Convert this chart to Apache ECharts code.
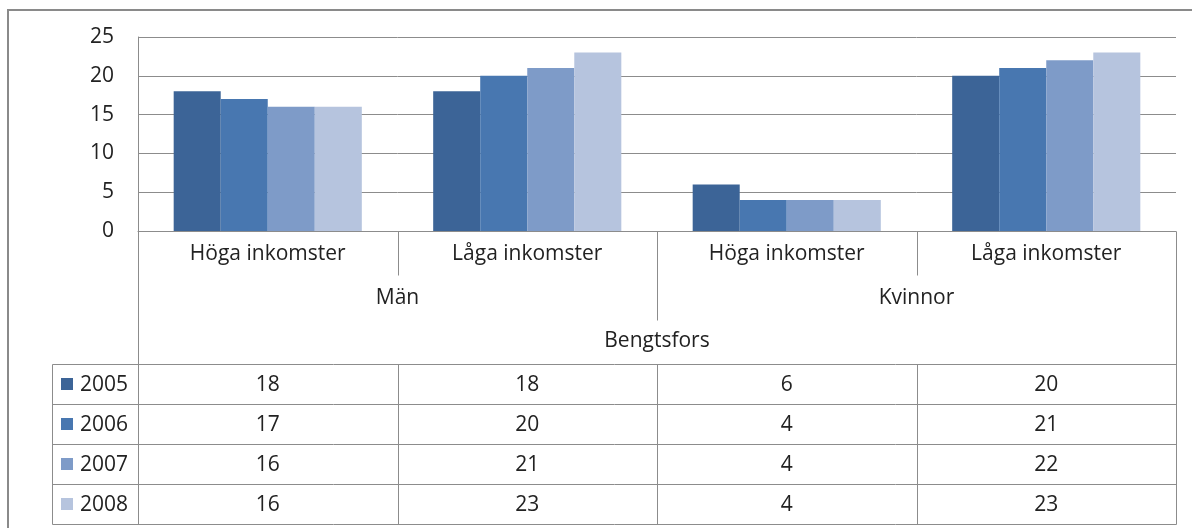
<!DOCTYPE html>
<html>
<head>
<meta charset="utf-8">
<script src="https://cdn.jsdelivr.net/npm/echarts@6/dist/echarts.min.js"></script>
<style>
  html, body { margin: 0; padding: 0; background: #fff; }
  #chart { width: 1192px; height: 528px; }
</style>
</head>
<body>
<div id="chart"></div>
<script>
// data
const categories = ['Höga inkomster', 'Låga inkomster', 'Höga inkomster', 'Låga inkomster'];
const groups = ['Män', 'Kvinnor'];
const region = 'Bengtsfors';
const years = ['2005', '2006', '2007', '2008'];
const v2005 = [18, 18, 6, 20];
const v2006 = [17, 20, 4, 21];
const v2007 = [16, 21, 4, 22];
const v2008 = [16, 23, 4, 23];
const yTicks = [0, 5, 10, 15, 20, 25];

const values = [v2005, v2006, v2007, v2008];
const colors = ['#3c6497', '#4877b0', '#7e9bc8', '#b6c4de'];
const FONT = 'Open Sans';
const TXT = '#222';
const LINE = '#8c8c8c';

const chart = echarts.init(document.getElementById('chart'));

chart.setOption({
  animation: false,
  backgroundColor: '#fff',
  grid: { left: 138, right: 16, top: 37, bottom: 297 },
  xAxis: {
    type: 'category',
    data: categories.map((c, i) => String(i)),
    axisLine: { lineStyle: { color: LINE } },
    axisTick: { show: false },
    axisLabel: {
      formatter: (v, i) => categories[i],
      fontFamily: FONT, fontSize: 21, color: TXT, margin: 13
    }
  },
  yAxis: {
    type: 'value',
    min: yTicks[0],
    max: yTicks[yTicks.length - 1],
    interval: 5,
    axisLine: { show: true, lineStyle: { color: LINE } },
    axisTick: { show: false },
    splitLine: { lineStyle: { color: LINE } },
    axisLabel: { fontFamily: FONT, fontSize: 21, color: TXT, margin: 24 }
  },
  series: years.map((y, i) => ({
    name: y,
    type: 'bar',
    data: values[i],
    barGap: 0,
    barCategoryGap: '27.5%',
    itemStyle: { color: colors[i] }
  }))
});

// data table under the axis, placed from the axis scale
const cx = categories.map((c, i) => chart.convertToPixel({ xAxisIndex: 0 }, i));
const half = (cx[1] - cx[0]) / 2;
const bounds = [cx[0] - half].concat(cx.map(x => x + half));
const yBase = chart.convertToPixel({ yAxisIndex: 0 }, 0);
const rowTop = 364, rowH = 40, legLeft = 52;
const tableBottom = rowTop + rowH * years.length;

const g = [];
const line = (x1, y1, x2, y2) => g.push({
  type: 'line', silent: true,
  shape: { x1: Math.round(x1) + 0.5, y1: Math.round(y1) + 0.5, x2: Math.round(x2) + 0.5, y2: Math.round(y2) + 0.5 },
  style: { stroke: LINE, lineWidth: 1 }
});
const text = (x, y, s, align) => g.push({
  type: 'text', silent: true, x: x, y: y,
  style: { text: s, fontFamily: FONT, fontSize: 21, fill: TXT, align: align || 'center', verticalAlign: 'middle' }
});

// outer chart border
g.push({ type: 'rect', silent: true, shape: { x: 8, y: 10, width: 1300, height: 700 },
  style: { fill: 'none', stroke: '#8a8a8a', lineWidth: 2 } });

// header separators
line(bounds[0], yBase, bounds[0], tableBottom);
line(bounds[4], yBase, bounds[4], tableBottom);
line(bounds[1], yBase, bounds[1], 275);
line(bounds[3], yBase, bounds[3], 275);
line(bounds[2], yBase, bounds[2], 320);

// group + region labels
text((bounds[0] + bounds[2]) / 2, 298, groups[0]);
text((bounds[2] + bounds[4]) / 2, 298, groups[1]);
text((bounds[0] + bounds[4]) / 2, 341, region);

// table grid
for (let r = 0; r <= years.length; r++) line(legLeft, rowTop + r * rowH, bounds[4], rowTop + r * rowH);
line(legLeft, rowTop, legLeft, tableBottom);
for (let k = 1; k < 4; k++) line(bounds[k], rowTop, bounds[k], tableBottom);

// rows
years.forEach((y, r) => {
  const cy = rowTop + r * rowH + rowH / 2 + 1;
  g.push({ type: 'rect', silent: true, shape: { x: 61, y: cy - 7, width: 12, height: 12 }, style: { fill: colors[r] } });
  text(80, cy, y, 'left');
  values[r].forEach((v, i) => text(cx[i], cy, String(v)));
});

chart.setOption({ graphic: g });
</script>
</body>
</html>
